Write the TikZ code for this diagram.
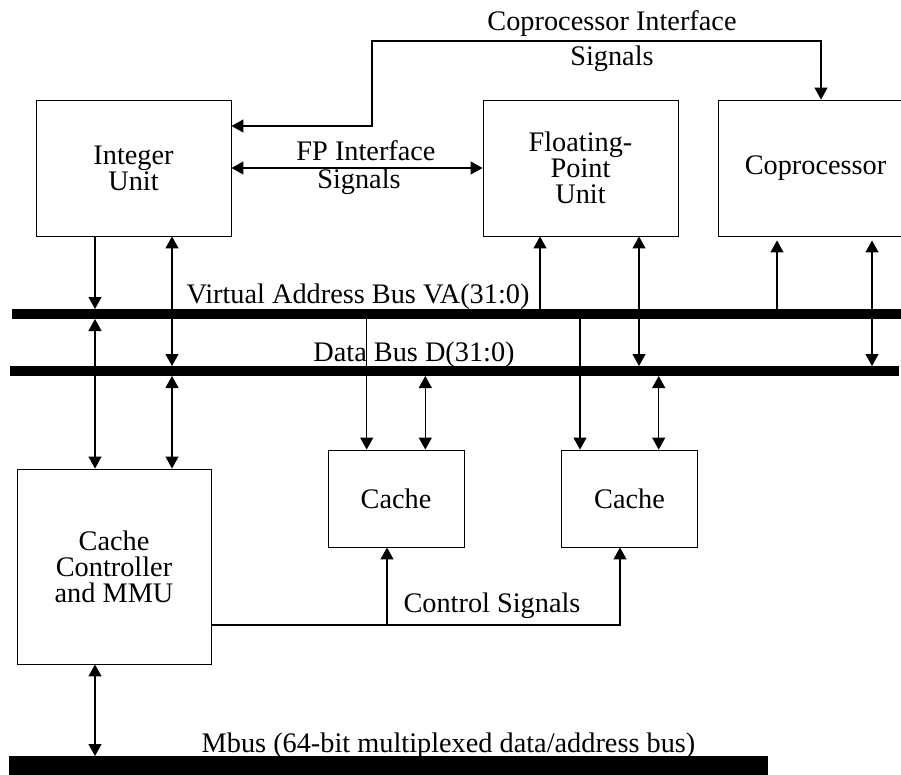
\documentclass[tikz,border=0pt]{standalone}
\usepackage{fontspec}
\setmainfont{Liberation Serif}
\usetikzlibrary{arrows.meta,positioning}
\tikzstyle{unit}    =[draw, line width=0.9pt, align=center,
                      inner sep=0pt, minimum width=195pt,
                      minimum height=136pt]
\tikzstyle{cachebox}=[unit, minimum width=136pt, minimum height=97pt]
\tikzstyle{bus}     =[fill=black, inner sep=0pt, outer sep=0pt,
                      minimum height=10pt]
\tikzstyle{sig}     =[line width=1.3pt,
                      >={Triangle[length=12pt,width=13pt]}]
\tikzstyle{lbl}     =[inner sep=0pt, anchor=base]

\begin{document}
\begin{tikzpicture}[x=1pt, y=-1pt, font=\fontsize{28.3}{26}\selectfont,
            node distance=447pt, on grid]
    \useasboundingbox (0,0) rectangle (901,775);
    \clip (0,0) rectangle (901,775);
    % processing units
    \node[unit] (iu) at (133.5,168) {Integer\\Unit};
    \node[unit, right=of iu] (fpu) {Floating-\\Point\\Unit};
    \node[unit, right=235pt of fpu] (cop) {Coprocessor};
    \node[unit, minimum width=194pt, minimum height=195pt] (ccm)
        at (114,566.5) {Cache\\Controller\\and MMU};
    \node[cachebox] (ca1) at (396,498.5) {Cache};
    \node[cachebox, right=233.5pt of ca1] (ca2) {Cache};
    % buses
    \node[bus, minimum width=898pt] (va) at (461,314) {};
    \node[bus, minimum width=889pt] (db) at (454.5,371) {};
    \node[bus, minimum width=759pt, minimum height=34pt] (mb) at (388.5,773) {};
    \node[lbl] at (358,303) {Virtual Address Bus VA(31:0)};
    \node[lbl] at (414,361) {Data Bus D(31:0)};
    \node[lbl] at (448.5,752) {Mbus (64-bit multiplexed data/address bus)};
    % tap points
    \coordinate (iuA) at ([xshift=-38.5pt]iu.south);
    \coordinate (iuB) at ([xshift=38.5pt]iu.south);
    \coordinate (fpA) at ([xshift=-40.5pt]fpu.south);
    \coordinate (fpB) at ([xshift=58.5pt]fpu.south);
    \coordinate (cpA) at ([xshift=-38.5pt,yshift=-4pt]cop.south);
    \coordinate (cpB) at ([xshift=56.5pt,yshift=-4pt]cop.south);
    \coordinate (c1A) at ([xshift=-29.3pt]ca1.north);
    \coordinate (c1B) at ([xshift=29.3pt]ca1.north);
    \coordinate (c2A) at ([xshift=-49.5pt]ca2.north);
    \coordinate (c2B) at ([xshift=29.2pt]ca2.north);
    \coordinate (c1C) at ([xshift=-9pt]ca1.south);
    \coordinate (c2C) at ([xshift=-9.5pt]ca2.south);
    \coordinate (ccA) at ([xshift=-19pt]ccm.south);
    \coordinate (ctl) at ([yshift=-58.5pt]ccm.east);
    \coordinate (cpI) at ([yshift=42pt]iu.east);
    \coordinate (cpT) at ([xshift=5.5pt]cop.north);
    \coordinate (bend) at (372,41);
    % bus connections
    \draw[sig,->] (iuA) -- (iuA |- va.north);
    \draw[sig,<->] (iuA |- va.south) -- (iuA |- ccm.north);
    \draw[sig,<->] (iuB) -- (iuB |- db.north);
    \draw[sig,<->] (iuB |- db.south) -- (iuB |- ccm.north);
    \draw[sig,->] (fpA |- va.north) -- (fpA);
    \draw[sig,<->] (fpB) -- (fpB |- db.north);
    \draw[sig,->] (cpA |- va.north) -- (cpA);
    \draw[sig,<->] (cpB) -- (cpB |- db.north);
    \draw[sig,->] (c1A |- va.south) -- (c1A);
    \draw[sig,<->] (c1B |- db.south) -- (c1B);
    \draw[sig,->] (c2A |- va.south) -- (c2A);
    \draw[sig,<->] (c2B |- db.south) -- (c2B);
    \draw[sig,<->] (ccA) -- (ccA |- mb.north);
    % control signals
    \draw[sig,->] (ctl) -| (c2C);
    \draw[sig,->] (c1C |- ctl) -- (c1C);
    \node[lbl] at (492,612) {Control Signals};
    % interface signals
    \draw[sig,<->] (iu.east) -- (fpu.west);
    \node[lbl] at (366,161) {FP Interface};
    \node[lbl] at (359,189) {Signals};
    \draw[sig,<->] (cpI) -| (bend) -| (cpT);
    \node[lbl] at (612,31) {Coprocessor Interface};
    \node[lbl] at (612,66) {Signals};
\end{tikzpicture}
\end{document}
